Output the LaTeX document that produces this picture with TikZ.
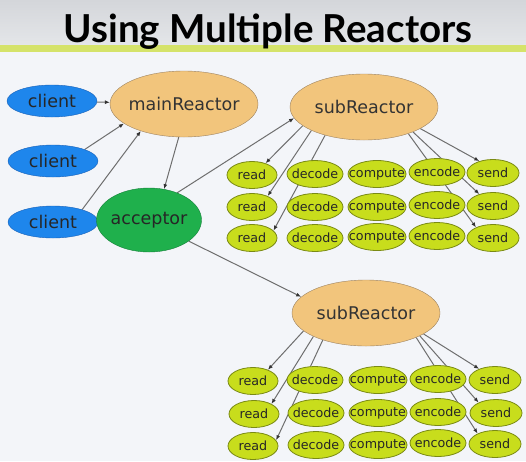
\documentclass[tikz,border=0pt]{standalone}
\usepackage{mathtools}
\usepackage{fontspec}
\setmainfont{DejaVu Sans}
\newfontfamily\titlefont{Lato}
\usepackage{xcolor}
\usepackage{tikz}
\usetikzlibrary{arrows.meta, shapes.geometric, backgrounds}

\definecolor{clientblue}{HTML}{1E86EC}
\definecolor{clientedge}{HTML}{1760B8}
\definecolor{reactortan}{HTML}{F2C57C}
\definecolor{reactoredge}{HTML}{9C8260}
\definecolor{acceptgreen}{HTML}{1FB04C}
\definecolor{acceptedge}{HTML}{15803A}
\definecolor{tasklime}{HTML}{C8DD1C}
\definecolor{taskedge}{HTML}{7A8A14}
\definecolor{wirecol}{HTML}{6E6E6E}
\definecolor{bandtop}{HTML}{D4D6DA}
\definecolor{bandbot}{HTML}{E4E6E9}
\definecolor{bandline}{HTML}{D5E36A}
\definecolor{pagebg}{HTML}{F3F5F9}

\tikzset{
  client/.style={ellipse, draw=clientedge, fill=clientblue, minimum width=90pt,
    minimum height=32pt, inner sep=0pt, text=black!85, font=\fontsize{17.5}{17.5}\selectfont},
  reactor/.style={ellipse, draw=reactoredge, fill=reactortan, minimum width=148pt,
    minimum height=66pt, inner sep=0pt, text=black!80, font=\fontsize{17.5}{17.5}\selectfont},
  acceptorbox/.style={ellipse, draw=acceptedge, fill=acceptgreen, minimum width=105pt,
    minimum height=64pt, inner sep=0pt, text=black!85, font=\fontsize{17.5}{17.5}\selectfont},
  task/.style={ellipse, draw=taskedge, line width=0.8pt, fill=tasklime, minimum width=#1,
    minimum height=27pt, inner sep=0pt, text=black!85, font=\fontsize{12.7}{12.7}\selectfont},
  wire/.style={draw=wirecol, line width=1pt, -{Latex[length=5pt,width=4pt,color=black!80]}},
}

\begin{document}
\begin{tikzpicture}[x=1pt, y=-1pt]
            \useasboundingbox (0,0) rectangle (526,461);
            % page
            \begin{scope}[on background layer]
                \fill[pagebg] (0,0) rectangle (526,461);
                \shade[top color=bandtop, bottom color=bandbot] (0,0) rectangle (526,45);
                \fill[bandline] (0,45) rectangle (526,52);
            \end{scope}
            \node (title) at (268,32) {\titlefont\bfseries\fontsize{38.5}{38.5}\selectfont Using Multiple Reactors};

            \node[client] (c1) at (52,101) {\clap{client}};
            \node[client] (c2) at (53,161) {\clap{client}};
            \node[client] (c3) at (53,222) {\clap{client}};
            \node[reactor] (main) at (184,104) {\clap{mainReactor}};
            \node[acceptorbox] (acc) at (149,220) {\clap{acceptor}};
            \node[reactor] (subA) at (364,107) {\clap{subReactor}};
            \node[reactor] (subB) at (366,313) {\clap{subReactor}};

            % first subReactor
            \node[task=50pt] (rA1) at (252,175) {\clap{read}};
            \node[task=50pt] (rA2) at (252,207) {\clap{read}};
            \node[task=50pt] (rA3) at (252,238) {\clap{read}};
            \node[task=56pt] (dA1) at (315,174) {\clap{decode}};
            \node[task=56pt] (dA2) at (315,207) {\clap{decode}};
            \node[task=56pt] (dA3) at (315,238) {\clap{decode}};
            \node[task=58pt] (kA1) at (377,174) {\clap{compute}};
            \node[task=58pt] (kA2) at (377,207) {\clap{compute}};
            \node[task=58pt] (kA3) at (377,237) {\clap{compute}};
            \node[task=56pt] (eA1) at (437,172) {\clap{encode}};
            \node[task=56pt] (eA2) at (437,205) {\clap{encode}};
            \node[task=56pt] (eA3) at (437,236) {\clap{encode}};
            \node[task=52pt] (sA1) at (493,173) {\clap{send}};
            \node[task=52pt] (sA2) at (493,206) {\clap{send}};
            \node[task=52pt] (sA3) at (493,238) {\clap{send}};

            % second subReactor
            \node[task=50pt] (rB1) at (253,381) {\clap{read}};
            \node[task=50pt] (rB2) at (254,414) {\clap{read}};
            \node[task=50pt] (rB3) at (253,446) {\clap{read}};
            \node[task=56pt] (dB1) at (315,380) {\clap{decode}};
            \node[task=56pt] (dB2) at (316,413) {\clap{decode}};
            \node[task=56pt] (dB3) at (316,445) {\clap{decode}};
            \node[task=58pt] (kB1) at (378,380) {\clap{compute}};
            \node[task=58pt] (kB2) at (378,413) {\clap{compute}};
            \node[task=58pt] (kB3) at (378,445) {\clap{compute}};
            \node[task=56pt] (eB1) at (438,379) {\clap{encode}};
            \node[task=56pt] (eB2) at (438,412) {\clap{encode}};
            \node[task=56pt] (eB3) at (438,443) {\clap{encode}};
            \node[task=52pt] (sB1) at (495,380) {\clap{send}};
            \node[task=52pt] (sB2) at (496,413) {\clap{send}};
            \node[task=52pt] (sB3) at (495,444) {\clap{send}};

            \begin{scope}[on background layer]
                \draw[wire] (c1) -- (main);
                \draw[wire] (c2.20) -- (main.198);
                \draw[wire] (c3.23) -- (main.212);
                \draw[wire] (main.261) -- (acc.64);
                \draw[wire] (acc.44) -- (subA.189);
                \draw[wire] (acc.332) -- (subB.166);
                \draw[wire] (subA.197) -- (rA1.41);
                \draw[wire] (subA.204) -- (rA2.35);
                \draw[wire] (subA.216) -- (rA3.19);
                \draw[wire] (subA.339) -- (sA1.139);
                \draw[wire] (subA.333) -- (sA2.139);
                \draw[wire] (subA.329) -- (sA3.148);
                \draw[wire] (subB.196) -- (rB1.37);
                \draw[wire] (subB.204) -- (rB2.30);
                \draw[wire] (subB.212) -- (rB3.14);
                \draw[wire] (subB.340) -- (sB1.145);
                \draw[wire] (subB.337) -- (sB2.149);
                \draw[wire] (subB.334) -- (sB3.149);
            \end{scope}
        \end{tikzpicture}
\end{document}
